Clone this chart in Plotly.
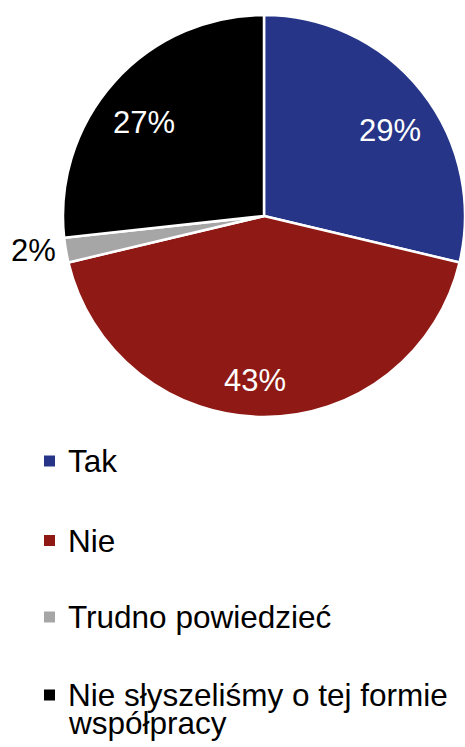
import math
import plotly.graph_objects as go

# Survey answers and their shares (%)
categories = ["Tak", "Nie", "Trudno powiedzieć", "Nie słyszeliśmy o tej formie współpracy"]
values = [29, 43, 2, 27]
colors = ["#263587", "#8F1A15", "#A6A6A6", "#000000"]
legend_lines = [["Tak"], ["Nie"], ["Trudno powiedzieć"], ["Nie słyszeliśmy o tej formie", "współpracy"]]

W, H = 465, 747
FONT = "Liberation Sans, Arial, sans-serif"
FS = 31
LEGEND_FS = 31.5

# Pie geometry (pixels)
pie_left, pie_right, pie_top = 63, 465, 15
R = (pie_right - pie_left) / 2
cx = (pie_left + pie_right) / 2
cy = pie_top + R

# Placement of the value labels: fraction of radius, angular nudge (deg), colour
label_radius = [0.757, 0.818, 1.162, 0.758]
label_shift_deg = [4.0, 3.3, 1.2, -3.9]
label_colors = ["white", "white", "black", "white"]

# Legend layout (pixels)
legend_rows_y = [461, 540.5, 617, 695]
legend_line_gap = 27.5
legend_sq_x, legend_sq_size = 44, 11
legend_text_x = 66


def px(x):
    return x / W


def py(y):
    return 1 - y / H


fig = go.Figure(
    go.Pie(
        labels=categories,
        values=values,
        sort=False,
        direction="clockwise",
        rotation=0,
        marker=dict(colors=colors, line=dict(color="white", width=2.5)),
        textinfo="none",
        hoverinfo="label+percent",
        showlegend=False,
        domain=dict(x=[px(pie_left), px(pie_right)], y=[py(pie_top + 2 * R), py(pie_top)]),
    )
)

annotations = []
shapes = []

# Value labels placed around each slice's mid-angle
total = sum(values)
cum = 0
for v, f, d, c in zip(values, label_radius, label_shift_deg, label_colors):
    mid = (cum + v / 2) / total * 2 * math.pi + math.radians(d)
    cum += v
    lx = cx + f * R * math.sin(mid)
    ly = cy - f * R * math.cos(mid)
    annotations.append(dict(
        x=px(lx), y=py(ly), xref="paper", yref="paper",
        text=f"{v}%", showarrow=False, xanchor="center", yanchor="middle",
        font=dict(family=FONT, size=FS, color=c),
    ))

# Legend: coloured squares with text
for lines, col, y in zip(legend_lines, colors, legend_rows_y):
    shapes.append(dict(
        type="rect", xref="paper", yref="paper",
        x0=px(legend_sq_x), x1=px(legend_sq_x + legend_sq_size),
        y0=py(y - legend_sq_size / 2), y1=py(y + legend_sq_size / 2),
        fillcolor=col, line=dict(width=0),
    ))
    for i, line in enumerate(lines):
        annotations.append(dict(
            x=px(legend_text_x), y=py(y + i * legend_line_gap), xref="paper", yref="paper",
            text=line, showarrow=False, xanchor="left", yanchor="middle",
            font=dict(family=FONT, size=LEGEND_FS, color="black"),
        ))

fig.update_layout(
    width=W, height=H,
    margin=dict(l=0, r=0, t=0, b=0),
    paper_bgcolor="white", plot_bgcolor="white",
    annotations=annotations, shapes=shapes,
    font=dict(family=FONT),
)

fig.write_html("out.html")
